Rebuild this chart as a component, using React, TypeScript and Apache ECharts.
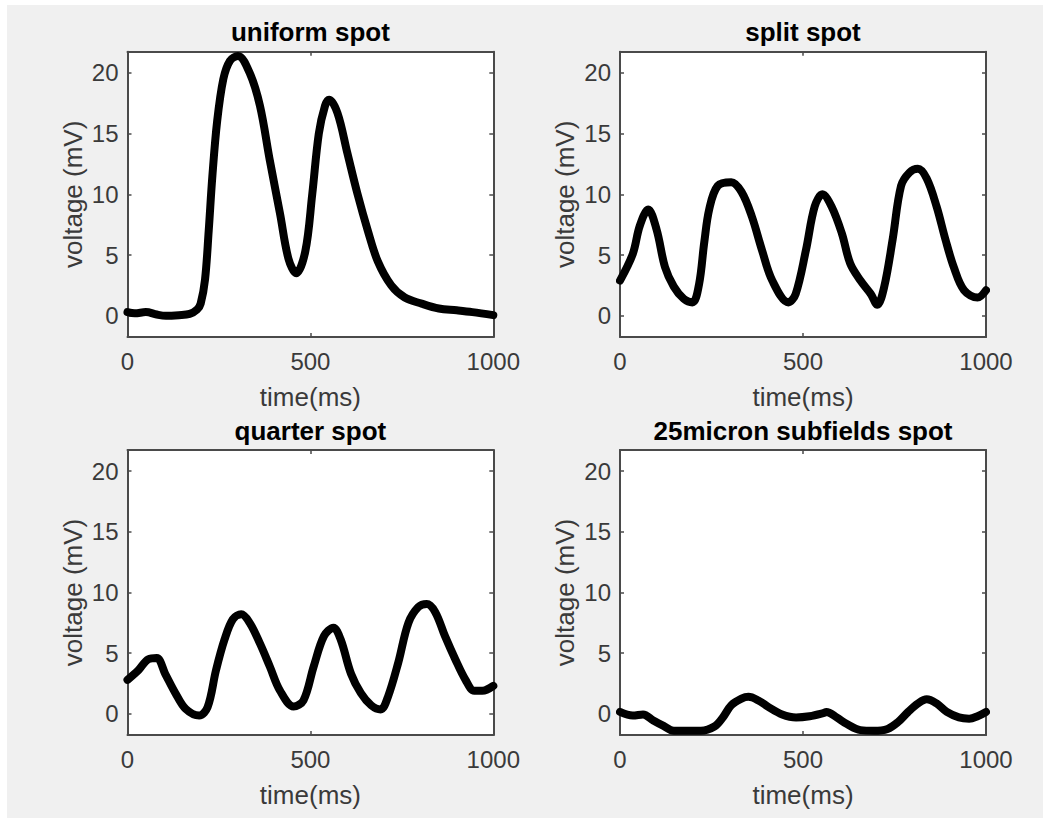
import React, { useEffect, useRef } from "react";
import * as echarts from "echarts";

// ---- data ----
const titles = ["uniform spot", "split spot", "quarter spot", "25micron subfields spot"];
const xTickValues = [0, 500, 1000];
const yTickValues = [0, 5, 10, 15, 20];
const xName = "time(ms)";
const yName = "voltage (mV)";

const uniformT = [0, 20, 50, 80, 105, 140, 170, 190, 200, 212, 222, 232, 245, 262, 280, 302, 334, 362, 389, 417, 440, 461, 486, 505, 523, 540, 551, 574, 601, 629, 657, 684, 721, 758, 804, 851, 900, 943, 1000];
const uniformV = [0.3, 0.2, 0.3, 0.1, 0.0, 0.05, 0.15, 0.5, 1.0, 3.0, 7.0, 11.5, 16.0, 19.5, 21.0, 21.4, 20.0, 17.3, 12.8, 8.4, 4.7, 3.5, 5.3, 10.0, 15.0, 17.3, 17.8, 16.7, 13.4, 10.0, 7.0, 4.5, 2.5, 1.5, 1.0, 0.6, 0.45, 0.3, 0.05];

const splitT = [0, 35, 54, 77, 100, 123, 147, 174, 198, 216, 230, 244, 267, 304, 332, 360, 388, 416, 460, 480, 508, 532, 553, 578, 606, 629, 657, 685, 703, 722, 745, 768, 791, 814, 838, 865, 889, 912, 940, 977, 1000];
const splitV = [2.9, 5.1, 7.4, 8.75, 7.1, 4.0, 2.4, 1.4, 1.1, 2.6, 6.0, 8.8, 10.7, 11.0, 10.2, 8.2, 5.4, 2.9, 1.1, 1.8, 5.4, 9.0, 10.0, 9.0, 6.8, 4.3, 2.9, 1.8, 0.9, 2.4, 6.3, 10.7, 11.8, 12.1, 11.3, 9.0, 6.3, 4.0, 2.1, 1.5, 2.1];

const quarterT = [0, 30, 57, 80, 103, 131, 159, 196, 219, 242, 265, 288, 311, 334, 362, 389, 417, 454, 481, 509, 537, 563, 583, 611, 638, 666, 692, 712, 740, 768, 795, 818, 841, 868, 896, 924, 948, 970, 1000];
const quarterV = [2.8, 3.6, 4.5, 4.6, 3.3, 1.7, 0.4, -0.15, 0.55, 3.6, 6.1, 7.8, 8.2, 7.5, 5.8, 3.9, 1.9, 0.6, 1.1, 3.9, 6.4, 7.1, 6.1, 3.3, 1.7, 0.7, 0.35, 1.4, 4.2, 7.5, 8.8, 9.05, 8.4, 6.4, 4.5, 2.8, 1.9, 1.9, 2.3];

const micronT = [0, 35, 63, 91, 119, 147, 184, 221, 258, 281, 304, 332, 351, 378, 406, 443, 481, 518, 555, 564, 592, 620, 657, 694, 731, 759, 787, 814, 838, 865, 893, 926, 954, 977, 1000];
const micronV = [0.15, -0.15, -0.05, -0.55, -1.0, -1.4, -1.4, -1.4, -1.05, -0.3, 0.7, 1.25, 1.4, 1.1, 0.55, -0.05, -0.3, -0.2, 0.05, 0.15, -0.3, -0.85, -1.35, -1.4, -1.25, -0.7, 0.15, 0.85, 1.2, 0.85, 0.15, -0.3, -0.4, -0.2, 0.15];

const seriesT = [uniformT, splitT, quarterT, micronT];
const seriesV = [uniformV, splitV, quarterV, micronV];

const X_MIN = 0;
const X_MAX = 1000;
const Y_MIN = -1.75;
const Y_MAX = 21.75;

// ---- layout ----
const FONT = "Liberation Sans";
const LABEL_COLOR = "#3a3a3a";
const AXIS_COLOR = "#4a4a4a";
const grids = [
  { left: 127.5, top: 51.7, width: 365.8, height: 285.3 },
  { left: 620, top: 51.7, width: 366, height: 285.3 },
  { left: 127.5, top: 450, width: 365.8, height: 285 },
  { left: 620, top: 450, width: 366, height: 285 },
];

function buildOption() {
  const axisLine = { show: true, onZero: false, lineStyle: { color: AXIS_COLOR, width: 2 } };
  const tick = { show: true, inside: true, length: 4, lineStyle: { color: AXIS_COLOR, width: 1.5 } };
  const tickLabelStyle = { color: LABEL_COLOR, fontSize: 24, fontFamily: FONT };
  const nameStyle = { color: LABEL_COLOR, fontSize: 26, fontFamily: FONT };

  const xAxis: any[] = [];
  const yAxis: any[] = [];
  const series: any[] = [];
  const title: any[] = [];

  grids.forEach((g, i) => {
    xAxis.push({
      gridIndex: i, type: "value", position: "bottom", min: X_MIN, max: X_MAX, interval: 500,
      axisLine, axisTick: tick, splitLine: { show: false },
      axisLabel: { ...tickLabelStyle, margin: 12, customValues: xTickValues, formatter: (v: number) => String(v) },
      name: xName, nameLocation: "middle", nameGap: 47,
      nameTextStyle: { ...nameStyle },
    });
    xAxis.push({
      gridIndex: i, type: "value", position: "top", min: X_MIN, max: X_MAX, interval: 500,
      axisLine, axisTick: tick, splitLine: { show: false }, axisLabel: { show: false },
    });
    yAxis.push({
      gridIndex: i, type: "value", position: "left", min: Y_MIN, max: Y_MAX,
      axisLine, axisTick: { ...tick, customValues: yTickValues }, splitLine: { show: false },
      axisLabel: { ...tickLabelStyle, margin: 9, customValues: yTickValues, formatter: (v: number) => String(v) },
      name: yName, nameLocation: "middle", nameGap: 42, nameRotate: 90,
      nameTextStyle: { ...nameStyle },
    });
    yAxis.push({
      gridIndex: i, type: "value", position: "right", min: Y_MIN, max: Y_MAX,
      axisLine, axisTick: { ...tick, customValues: yTickValues }, splitLine: { show: false },
      axisLabel: { show: false },
    });
    series.push({
      type: "line",
      xAxisIndex: 2 * i,
      yAxisIndex: 2 * i,
      data: seriesT[i].map((t, k) => [t, seriesV[i][k]]),
      showSymbol: false,
      smooth: 0.35,
      clip: true,
      lineStyle: { color: "#000", width: 8, cap: "round", join: "round" },
    });
    title.push({
      text: titles[i],
      left: g.left + g.width / 2,
      top: g.top - 32.5,
      textAlign: "center",
      padding: 0,
      textStyle: { color: "#000", fontSize: 26, fontWeight: "bold", fontFamily: FONT },
    });
  });

  return {
    animation: false,
    backgroundColor: "transparent",
    title,
    grid: grids.map((g) => ({ ...g, show: true, backgroundColor: "#fff", borderWidth: 0, containLabel: false })),
    xAxis,
    yAxis,
    series,
  };
}

export default function App() {
  const ref = useRef<HTMLDivElement>(null);
  useEffect(() => {
    document.body.style.margin = "0";
    if (!ref.current) return;
    const chart = echarts.init(ref.current, undefined, { renderer: "svg" });
    chart.setOption(buildOption());
    return () => chart.dispose();
  }, []);
  return (
    <div style={{ position: "relative", width: 1043, height: 818, background: "#fff", overflow: "hidden" }}>
      <div style={{ position: "absolute", left: 7, top: 5, right: 0, bottom: 0, background: "#f0f0f0" }} />
      <div ref={ref} style={{ position: "absolute", left: 0, top: 0, width: 1043, height: 818 }} />
    </div>
  );
}
